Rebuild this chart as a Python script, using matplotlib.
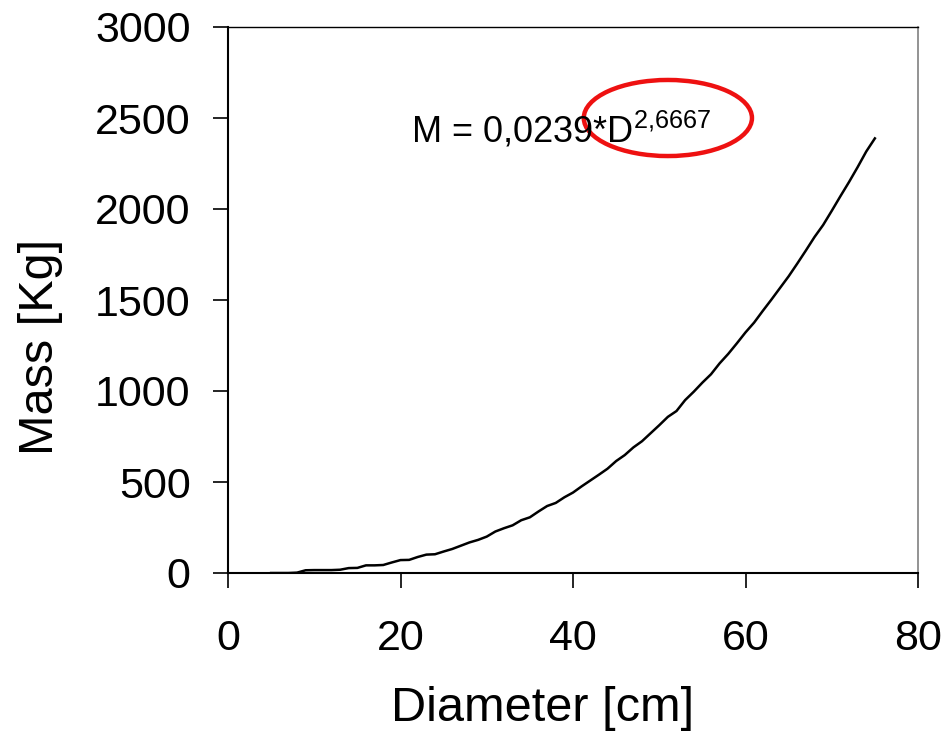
import numpy as np
import matplotlib.pyplot as plt
from matplotlib.patches import Ellipse

plt.rcParams['font.family'] = ['Liberation Sans', 'DejaVu Sans']
plt.rcParams['mathtext.fontset'] = 'custom'
plt.rcParams['mathtext.rm'] = 'Liberation Sans'
plt.rcParams['mathtext.it'] = 'Liberation Sans'

# Diameter [cm] and mass [Kg]
diameter = np.arange(5, 76)
mass = [0, 0, 0, 2, 15, 16, 16, 16, 18, 27,
        28, 42, 42, 44, 58, 71, 72, 88, 101, 103,
        118, 132, 150, 168, 182, 200, 228, 246, 262, 290,
        306, 338, 368, 385, 416, 442, 476, 508, 540, 573,
        615, 648, 690, 724, 768, 812, 858, 890, 950, 996,
        1046, 1092, 1152, 1204, 1262, 1322, 1376, 1440, 1502, 1566,
        1630, 1700, 1772, 1846, 1912, 1990, 2070, 2148, 2230, 2316,
        2388]

x_ticks = [0, 20, 40, 60, 80]
y_ticks = [0, 500, 1000, 1500, 2000, 2500, 3000]

fig = plt.figure(figsize=(9.46, 7.33), dpi=100)
ax = fig.add_axes([228/946, 1-573/733, 690/946, 546/733])

ax.plot(diameter, mass, color='black', lw=1.8)

ax.set_xlim(0, 80)
ax.set_ylim(0, 3000)
ax.set_xticks(x_ticks)
ax.set_yticks(y_ticks)
ax.tick_params(axis='both', labelsize=31, length=11, width=1.2, direction='out')
ax.tick_params(axis='y', pad=16)
ax.tick_params(axis='x', pad=22)

ax.spines['left'].set_linewidth(1.5)
ax.spines['bottom'].set_linewidth(1.5)
ax.spines['top'].set_linewidth(1.0)
ax.spines['right'].set_linewidth(1.2)
ax.spines['right'].set_color('#808080')

ax.set_xlabel('Diameter [cm]', fontsize=35)
ax.set_ylabel('Mass [Kg]', fontsize=35)
ax.xaxis.set_label_coords(0.4565, -0.207)
ax.yaxis.set_label_coords(-0.239, 0.414)

# equation annotation
ax.text(21.2, 2363, r'M = 0,0239*D$^{\mathregular{2{,}6667}}$', fontsize=26,
        ha='left', va='baseline')

# red ellipse round the exponent
ell = Ellipse((51.0, 2500), 19.5, 418, fill=False, edgecolor='#ee1111', lw=3.2,
              clip_on=False)
ax.add_patch(ell)

fig.savefig('out.png', dpi=100)
